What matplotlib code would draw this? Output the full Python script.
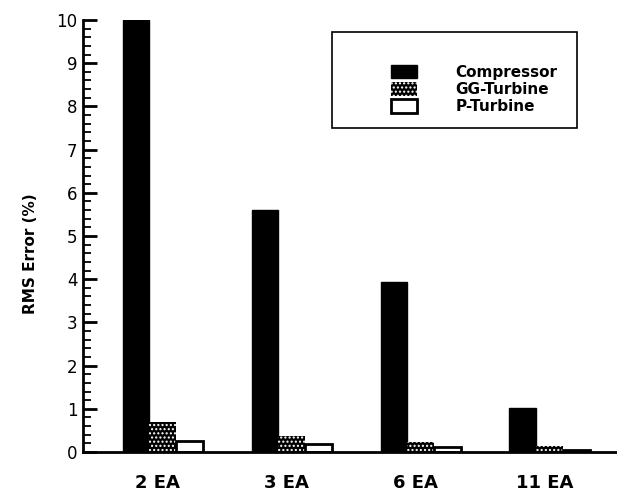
import matplotlib

matplotlib.use("Agg")
import matplotlib.pyplot as plt
import numpy as np
from matplotlib.patches import Rectangle

# values
groups = ["2 EA", "3 EA", "6 EA", "11 EA"]
compressor = [10.0, 5.6, 3.94, 1.03]
gg_turbine = [0.70, 0.37, 0.24, 0.14]
p_turbine = [0.26, 0.18, 0.11, 0.05]
series_labels = ["Compressor", "GG-Turbine", "P-Turbine"]

W, H = 617, 496
BAR_W = 0.209


def main() -> None:
    plt.rcParams["font.family"] = ["DejaVu Sans"]
    plt.rcParams["hatch.linewidth"] = 1.0
    fig = plt.figure(figsize=(W / 100, H / 100), dpi=100)
    ax = fig.add_axes([83 / W, 1 - 452 / H, (W - 83) / W, 432 / H])

    x = np.arange(len(groups))
    ax.bar(x - BAR_W, compressor, BAR_W, color="black", edgecolor="black",
           linewidth=1, label=series_labels[0])
    ax.bar(x, gg_turbine, BAR_W, color="black", edgecolor="white",
           hatch="....", linewidth=0, label=series_labels[1])
    ax.bar(x + BAR_W, p_turbine, BAR_W, color="white", edgecolor="black",
           linewidth=2, label=series_labels[2])

    ax.set_xlim(-0.62, 3.52)
    ax.set_ylim(0, 10)
    ax.set_yticks(np.arange(0, 11, 1))
    ax.set_yticks(np.arange(0, 10.01, 0.2), minor=True)
    ax.tick_params(axis="y", which="major", direction="in", length=10,
                   width=2, labelsize=12, pad=4)
    ax.tick_params(axis="y", which="minor", direction="in", length=6,
                   width=1.3)
    ax.set_xticks(x - 0.04)
    ax.set_xticklabels(groups, fontsize=13, fontweight="bold")
    ax.tick_params(axis="x", length=0, pad=16)

    for side in ("top", "right"):
        ax.spines[side].set_visible(False)
    for side in ("left", "bottom"):
        ax.spines[side].set_linewidth(2)

    ax.set_ylabel("RMS Error (%)", fontsize=11, fontweight="bold")
    ax.yaxis.set_label_coords(-0.085, 0.458)

    # legend box drawn by hand, entries from matplotlib legend
    fig.patches.append(Rectangle((332 / W, 1 - 128 / H), 245 / W, 96 / H,
                                 transform=fig.transFigure, fill=False,
                                 edgecolor="black", linewidth=1.2))
    ax.legend(loc="upper left", bbox_to_anchor=(383 / W, 1 - 57 / H),
              bbox_transform=fig.transFigure, frameon=False, borderpad=0,
              handlelength=1.75, handleheight=1.0, handletextpad=2.5,
              labelspacing=0.15,
              prop={"size": 11, "weight": "bold"})

    fig.savefig("out.png", dpi=100)
    plt.close(fig)


if __name__ == "__main__":
    main()
